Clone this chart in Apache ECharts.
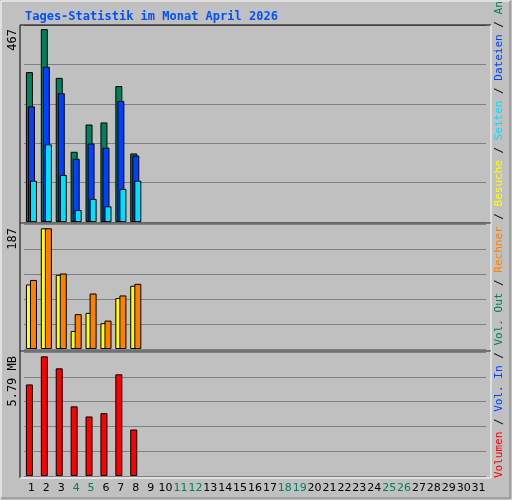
<!DOCTYPE html>
<html><head><meta charset="utf-8">
<script src="https://cdn.jsdelivr.net/npm/echarts@6/dist/echarts.min.js"></script>
<style>html,body{margin:0;padding:0;background:#c0c0c0}#c{width:512px;height:500px}</style>
</head><body><div id="c"></div>
<script>
const days = Array.from({length:31},(_,i)=>String(i+1));
const weekendDays = ['4','5','11','12','18','19','25','26'];
const anfragen = [363,467,349,170,236,241,329,166];
const dateien  = [280,376,312,153,190,180,293,161];
const seiten   = [100,188,114,29,56,38,80,100];
const besuche  = [100,187,115,28,56,40,79,98];
const rechner  = [107,187,117,54,86,44,83,101];
const volumen  = [4.43,5.79,5.21,3.37,2.88,3.04,4.92,2.25];
const volIn = [], volOut = [];
const topLabels = ['467','187','5.79 MB'];

const chart = echarts.init(document.getElementById('c'));
const grids = [
  {left:24,width:462,top:25,height:197},
  {left:24,width:462,top:224,height:125},
  {left:24,width:462,top:352,height:124}
];
const ymax=[477,193.7,6.0];
function xa(i){return {type:'category',gridIndex:i,data:days,boundaryGap:true,
  axisLine:{show:false},axisTick:{show:false},
  axisLabel:{show:i===2,interval:0,margin:7,fontFamily:'DejaVu Sans',fontSize:11,
    color:v=>weekendDays.includes(v)?'#00805c':'#000'}};}
function ya(i){return {type:'value',gridIndex:i,min:0,max:ymax[i],interval:ymax[i]/5,
  axisLabel:{show:false},axisLine:{show:false},axisTick:{show:false},
  splitLine:{show:true,lineStyle:{color:'#808080',width:1}}};}
function bar(i,data,color){return {type:'bar',xAxisIndex:i,yAxisIndex:i,data:data,barWidth:7,barGap:'-71%',
  itemStyle:{color:color,borderColor:'#000',borderWidth:1},silent:true};}
const blank=[null];
const frame=[];
[[20,25,223],[20,223,351],[20,351,478]].forEach(([x,t,b])=>{
  frame.push({type:'polyline',shape:{points:[[x,b],[x,t],[491,t]]},style:{stroke:'#000',lineWidth:1,fill:null},z:10});
  frame.push({type:'polyline',shape:{points:[[491,t],[491,b],[x,b]]},style:{stroke:'#fff',lineWidth:1,fill:null},z:10});
});
const topsY=[29,228,356];
const F='11px "DejaVu Sans Mono"';
topLabels.forEach((t,i)=>frame.push({type:'text',x:13,y:topsY[i],rotation:Math.PI/2,
  style:{text:t,fill:'#000',font:'12px "DejaVu Sans Mono"',align:'right',verticalAlign:'middle'}}));
frame.push({type:'text',x:499,y:478,rotation:Math.PI/2,style:{
  text:'{r|Volumen} {s|/} {b|Vol. In} {s|/} {g|Vol. Out} {s|/} {o|Rechner} {s|/} {y|Besuche} {s|/} {c|Seiten} {s|/} {b|Dateien} {s|/} {g|Anfragen}',
  font:F,align:'left',verticalAlign:'middle',
  rich:{r:{fill:'#ff0000',font:F},b:{fill:'#0040ff',font:F},g:{fill:'#00805c',font:F},
    o:{fill:'#ff8000',font:F},y:{fill:'#ffff00',font:F},c:{fill:'#00e0ff',font:F},s:{fill:'#000',font:F}}}});
frame.push({type:'polyline',shape:{points:[[1,499],[1,1],[510,1]]},style:{stroke:'#fff',fill:null}});
frame.push({type:'polyline',shape:{points:[[510,1],[510,498],[1,498]]},style:{stroke:'#808080',fill:null}});
chart.setOption({
  animation:false,backgroundColor:'#c0c0c0',
  title:{text:'Tages-Statistik im Monat April 2026',left:20,top:6,
    textStyle:{color:'#0050ff',fontFamily:'DejaVu Sans Mono',fontWeight:'bold',fontSize:12}},
  grid:grids,xAxis:[xa(0),xa(1),xa(2)],yAxis:[ya(0),ya(1),ya(2)],
  series:[bar(0,anfragen,'#00805c'),bar(0,dateien,'#0040ff'),bar(0,seiten,'#00e0ff'),
    bar(1,besuche,'#ffff00'),bar(1,blank,'#000'),bar(1,rechner,'#ff8000'),
    bar(2,volumen,'#ff0000'),bar(2,volIn,'#0040ff'),bar(2,volOut,'#00805c')],
  graphic:frame
});
</script></body></html>
